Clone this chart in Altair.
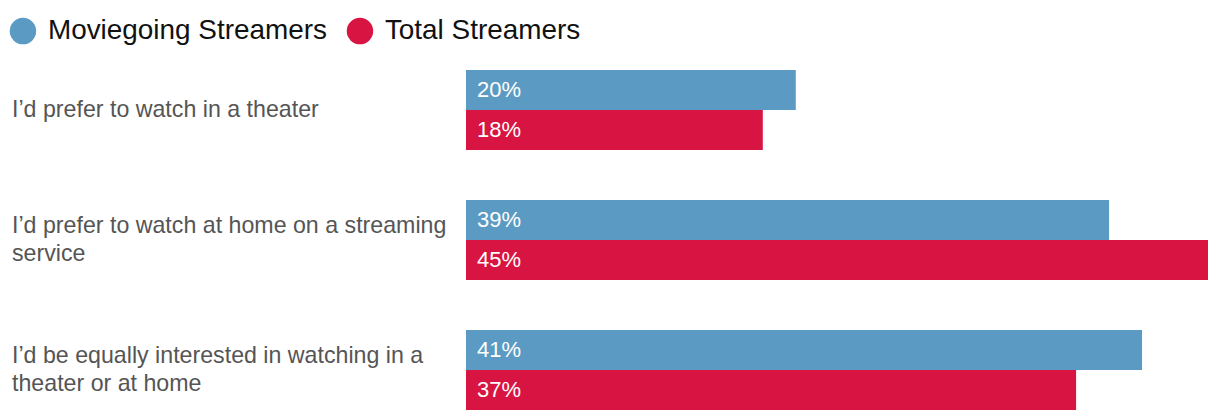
import altair as alt
import pandas as pd

categories = [
    "I’d prefer to watch in a theater",
    "I’d prefer to watch at home on a streaming service",
    "I’d be equally interested in watching in a theater or at home",
]
category_labels = [
    "I’d prefer to watch in a theater",
    "I’d prefer to watch at home on a streaming\nservice",
    "I’d be equally interested in watching in a\ntheater or at home",
]
series = ["Moviegoing Streamers", "Total Streamers"]
moviegoing = [20, 39, 41]
total = [18, 45, 37]
colors = ["#5b9bc3", "#d81442"]

rows = []
for c, m, t in zip(categories, moviegoing, total):
    rows.append({"category": c, "series": series[0], "value": m, "pct": f"{m}%"})
    rows.append({"category": c, "series": series[1], "value": t, "pct": f"{t}%"})
df = pd.DataFrame(rows)
cat_df = pd.DataFrame({
    "category": categories,
    "label": category_labels,
    "lines": [len(s.split("\n")) for s in category_labels],
})

FONT = "Liberation Sans"

y_enc = alt.Y("category:N", sort=categories, axis=None,
              scale=alt.Scale(paddingInner=50 / 130, paddingOuter=0))
yoff = alt.YOffset("series:N", sort=series,
                   scale=alt.Scale(paddingInner=0, paddingOuter=0))
x_enc = alt.X("value:Q", axis=None,
              scale=alt.Scale(domain=[0, 45], nice=False, zero=True))

bars = alt.Chart(df).mark_bar().encode(
    x=x_enc,
    y=y_enc,
    yOffset=yoff,
    color=alt.Color(
        "series:N",
        sort=series,
        scale=alt.Scale(domain=series, range=colors),
        legend=alt.Legend(
            title=None,
            orient="none",
            legendX=-457,
            legendY=-53,
            direction="horizontal",
            symbolType="circle",
            symbolSize=700,
            symbolStrokeWidth=0,
            symbolOpacity=1,
            labelFontSize=27.9,
            labelFont=FONT,
            labelColor="#111111",
            labelOffset=11,
            columnPadding=19,
            labelLimit=400,
        ),
    ),
)

bar_labels = alt.Chart(df).mark_text(
    align="left", baseline="middle", dx=11, color="white",
    fontSize=22, font=FONT,
).encode(
    x=alt.datum(0),
    y=y_enc,
    yOffset=yoff,
    text="pct:N",
)

def cat_layer(n, dy):
    return alt.Chart(cat_df).transform_filter(
        alt.datum.lines == n
    ).mark_text(
        align="left", baseline="middle", lineBreak="\n", lineHeight=28,
        fontSize=23.2, font=FONT, color="#555555", dy=dy,
    ).encode(
        y=alt.Y("category:N", sort=categories),
        x=alt.value(-454),
        text="label:N",
    )

chart = alt.layer(bars, bar_labels, cat_layer(1, 0), cat_layer(2, -14)).properties(
    width=742,
    height=340,
    autosize=alt.AutoSizeParams(type="none"),
    padding={"left": 458, "top": 62, "right": 4, "bottom": 2},
    background="white",
).configure_view(strokeWidth=0)

chart.save("out.html", embed_options={"renderer": "svg", "actions": False})
